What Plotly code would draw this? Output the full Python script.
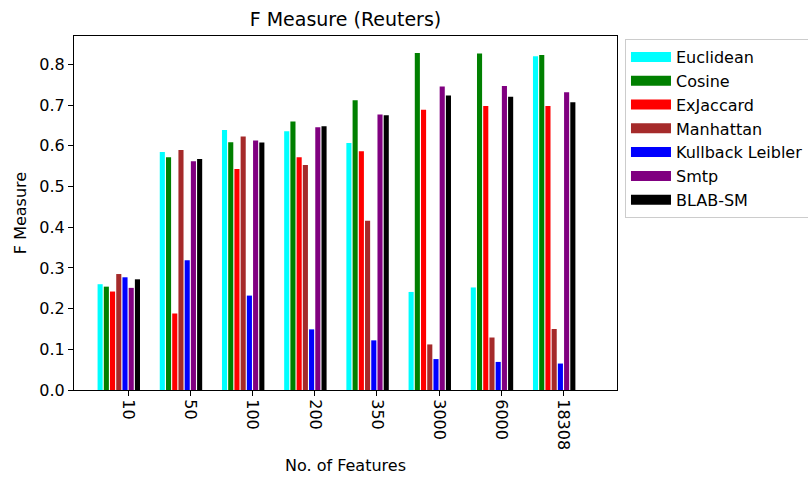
import plotly.graph_objects as go

features = ["10", "50", "100", "200", "350", "3000", "6000", "18308"]
series_names = ["Euclidean", "Cosine", "ExJaccard", "Manhattan", "Kullback Leibler", "Smtp", "BLAB-SM"]
colors = ["cyan", "green", "red", "brown", "blue", "purple", "black"]

euclidean = [0.260, 0.585, 0.639, 0.636, 0.607, 0.241, 0.252, 0.820]
cosine = [0.254, 0.572, 0.609, 0.660, 0.712, 0.828, 0.827, 0.823]
exjaccard = [0.242, 0.188, 0.543, 0.572, 0.587, 0.689, 0.698, 0.698]
manhattan = [0.285, 0.590, 0.623, 0.553, 0.416, 0.112, 0.129, 0.150]
kullback = [0.277, 0.319, 0.232, 0.149, 0.122, 0.076, 0.069, 0.065]
smtp = [0.251, 0.562, 0.613, 0.646, 0.677, 0.746, 0.747, 0.732]
blab_sm = [0.272, 0.568, 0.608, 0.648, 0.675, 0.724, 0.721, 0.707]

all_series = [euclidean, cosine, exjaccard, manhattan, kullback, smtp, blab_sm]
bar_w = 0.1

fig = go.Figure()
for k, (name, vals, col) in enumerate(zip(series_names, all_series, colors)):
    xs = [g + (k - 4.5) * bar_w for g in range(len(features))]
    fig.add_trace(go.Bar(
        x=xs, y=vals, name=name, width=bar_w * 0.82, legendgroup=name,
        marker=dict(color=col, line=dict(width=0)), showlegend=False,
    ))
# legend entries with rectangular swatches (matplotlib style)
for name, col in zip(series_names, colors):
    fig.add_trace(go.Scatter(
        x=[None], y=[None], mode="lines", name=name, legendgroup=name,
        line=dict(color=col, width=12), hoverinfo="skip",
    ))

FONT = "DejaVu Sans"
fig.update_layout(
    width=808, height=478,
    margin=dict(l=74, r=191, t=36, b=88, autoexpand=False),
    paper_bgcolor="white", plot_bgcolor="white",
    font=dict(family=FONT, size=16, color="black"),
    barmode="overlay",
    title=dict(text="F Measure (Reuters)", x=(74 + 617) / 2 / 808, xanchor="center",
               y=1 - 19 / 478, yanchor="middle", font=dict(size=19, family=FONT)),
    showlegend=True,
    legend=dict(x=1.0147, y=0.9915, xanchor="left", yanchor="top",
                bordercolor="#cccccc", borderwidth=1, bgcolor="white",
                font=dict(size=16, family=FONT), tracegroupgap=0, itemwidth=40),
)
fig.update_xaxes(
    range=[-0.87, 7.86], tickmode="array",
    tickvals=list(range(len(features))), ticktext=features,
    tickangle=90, ticks="outside", ticklen=5, tickcolor="black",
    showline=True, linecolor="black", linewidth=1, mirror=True,
    showgrid=False, zeroline=False, automargin=False,
    title=dict(text="No. of Features", font=dict(size=16, family=FONT), standoff=10),
)
fig.update_yaxes(
    range=[0, 0.870], tickvals=[0, 0.1, 0.2, 0.3, 0.4, 0.5, 0.6, 0.7, 0.8],
    tickformat=".1f", ticks="outside", ticklen=5, tickcolor="black",
    showline=True, linecolor="black", linewidth=1, mirror=True,
    showgrid=False, zeroline=False, automargin=False,
    title=dict(text="F Measure", font=dict(size=16, family=FONT), standoff=8),
)

fig.write_html("out.html", post_script="document.body.style.margin='0';",
               config={"displayModeBar": False})
